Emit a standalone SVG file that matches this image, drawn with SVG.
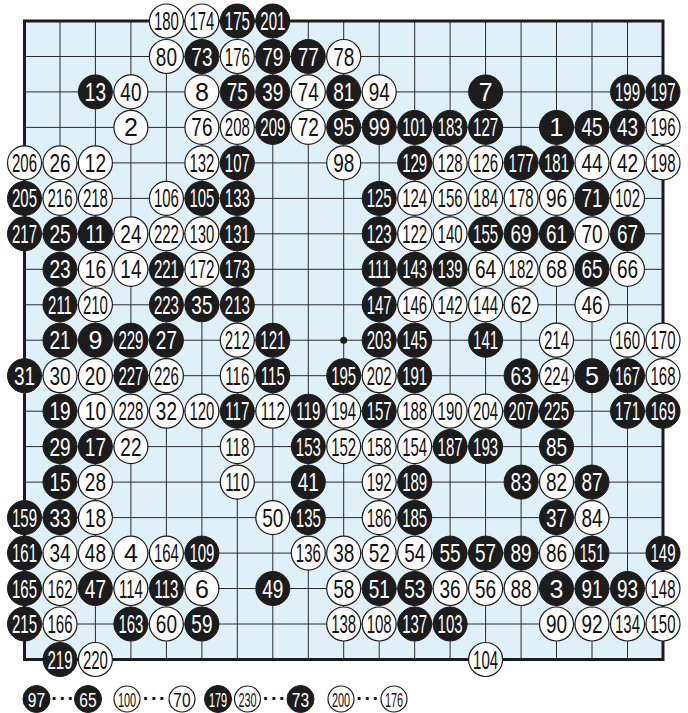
<svg xmlns="http://www.w3.org/2000/svg" width="688" height="713" viewBox="0 0 688 713">
<style>
text{font-family:"Liberation Sans",Arial,sans-serif;font-size:25px;text-anchor:middle}
.b circle{fill:#1c1c1c;stroke:#1c1c1c;stroke-width:1}
.w circle{fill:#fff;stroke:#1c1c1c;stroke-width:1.2}
.b text{fill:#fff}
.w text{fill:#111}
.t2{transform:scaleX(0.76)}
.t3{transform:scaleX(0.6)}
.lg text{font-size:21px}
.lg .t2{transform:scaleX(0.74)}
.lg .t3{transform:scaleX(0.52)}
.grid{stroke:#2a2a2a;stroke-width:1;fill:none}
.lg text.dots{font-size:20px;font-weight:bold;fill:#111;letter-spacing:1.5px}
</style>
<rect width="688" height="713" fill="#fff"/>
<g id="board">
<rect x="24.5" y="21" width="638.5" height="638.5" fill="#dff0f8"/>
<path class="grid" d="M60,21V659.5M95.4,21V659.5M130.9,21V659.5M166.4,21V659.5M201.9,21V659.5M237.3,21V659.5M272.8,21V659.5M308.3,21V659.5M343.7,21V659.5M379.2,21V659.5M414.7,21V659.5M450.1,21V659.5M485.6,21V659.5M521.1,21V659.5M556.5,21V659.5M592,21V659.5M627.5,21V659.5M24.5,56.5H663M24.5,91.9H663M24.5,127.4H663M24.5,162.9H663M24.5,198.4H663M24.5,233.8H663M24.5,269.3H663M24.5,304.8H663M24.5,340.2H663M24.5,375.7H663M24.5,411.2H663M24.5,446.6H663M24.5,482.1H663M24.5,517.6H663M24.5,553.1H663M24.5,588.5H663M24.5,624H663"/>
<rect x="24.5" y="21" width="638.5" height="638.5" fill="none" stroke="#1c1c1c" stroke-width="3"/>
<circle cx="343.7" cy="340.2" r="3.5" fill="#1c1c1c"/>
</g>
<g id="stones">
<g id="m180" class="w" transform="translate(166.4,21)"><circle r="17"/><text y="9" class="t3">180</text></g>
<g id="m174" class="w" transform="translate(201.9,21)"><circle r="17"/><text y="9" class="t3">174</text></g>
<g id="m175" class="b" transform="translate(237.3,21)"><circle r="17"/><text y="9" class="t3">175</text></g>
<g id="m201" class="b" transform="translate(272.8,21)"><circle r="17"/><text y="9" class="t3">201</text></g>

<g id="m80" class="w" transform="translate(166.4,56.5)"><circle r="17"/><text y="9" class="t2">80</text></g>
<g id="m73" class="b" transform="translate(201.9,56.5)"><circle r="17"/><text y="9" class="t2">73</text></g>
<g id="m176" class="w" transform="translate(237.3,56.5)"><circle r="17"/><text y="9" class="t3">176</text></g>
<g id="m79" class="b" transform="translate(272.8,56.5)"><circle r="17"/><text y="9" class="t2">79</text></g>
<g id="m77" class="b" transform="translate(308.3,56.5)"><circle r="17"/><text y="9" class="t2">77</text></g>
<g id="m78" class="w" transform="translate(343.7,56.5)"><circle r="17"/><text y="9" class="t2">78</text></g>

<g id="m13" class="b" transform="translate(95.4,91.9)"><circle r="17"/><text y="9" class="t2">13</text></g>
<g id="m40" class="w" transform="translate(130.9,91.9)"><circle r="17"/><text y="9" class="t2">40</text></g>
<g id="m8" class="w" transform="translate(201.9,91.9)"><circle r="17"/><text y="9">8</text></g>
<g id="m75" class="b" transform="translate(237.3,91.9)"><circle r="17"/><text y="9" class="t2">75</text></g>
<g id="m39" class="b" transform="translate(272.8,91.9)"><circle r="17"/><text y="9" class="t2">39</text></g>
<g id="m74" class="w" transform="translate(308.3,91.9)"><circle r="17"/><text y="9" class="t2">74</text></g>
<g id="m81" class="b" transform="translate(343.7,91.9)"><circle r="17"/><text y="9" class="t2">81</text></g>
<g id="m94" class="w" transform="translate(379.2,91.9)"><circle r="17"/><text y="9" class="t2">94</text></g>
<g id="m7" class="b" transform="translate(485.6,91.9)"><circle r="17"/><text y="9">7</text></g>
<g id="m199" class="b" transform="translate(627.5,91.9)"><circle r="17"/><text y="9" class="t3">199</text></g>
<g id="m197" class="b" transform="translate(663,91.9)"><circle r="17"/><text y="9" class="t3">197</text></g>

<g id="m2" class="w" transform="translate(130.9,127.4)"><circle r="17"/><text y="9">2</text></g>
<g id="m76" class="w" transform="translate(201.9,127.4)"><circle r="17"/><text y="9" class="t2">76</text></g>
<g id="m208" class="w" transform="translate(237.3,127.4)"><circle r="17"/><text y="9" class="t3">208</text></g>
<g id="m209" class="b" transform="translate(272.8,127.4)"><circle r="17"/><text y="9" class="t3">209</text></g>
<g id="m72" class="w" transform="translate(308.3,127.4)"><circle r="17"/><text y="9" class="t2">72</text></g>
<g id="m95" class="b" transform="translate(343.7,127.4)"><circle r="17"/><text y="9" class="t2">95</text></g>
<g id="m99" class="b" transform="translate(379.2,127.4)"><circle r="17"/><text y="9" class="t2">99</text></g>
<g id="m101" class="b" transform="translate(414.7,127.4)"><circle r="17"/><text y="9" class="t3">101</text></g>
<g id="m183" class="b" transform="translate(450.1,127.4)"><circle r="17"/><text y="9" class="t3">183</text></g>
<g id="m127" class="b" transform="translate(485.6,127.4)"><circle r="17"/><text y="9" class="t3">127</text></g>
<g id="m1" class="b" transform="translate(556.5,127.4)"><circle r="17"/><text y="9">1</text></g>
<g id="m45" class="b" transform="translate(592,127.4)"><circle r="17"/><text y="9" class="t2">45</text></g>
<g id="m43" class="b" transform="translate(627.5,127.4)"><circle r="17"/><text y="9" class="t2">43</text></g>
<g id="m196" class="w" transform="translate(663,127.4)"><circle r="17"/><text y="9" class="t3">196</text></g>

<g id="m206" class="w" transform="translate(24.5,162.9)"><circle r="17"/><text y="9" class="t3">206</text></g>
<g id="m26" class="w" transform="translate(60,162.9)"><circle r="17"/><text y="9" class="t2">26</text></g>
<g id="m12" class="w" transform="translate(95.4,162.9)"><circle r="17"/><text y="9" class="t2">12</text></g>
<g id="m132" class="w" transform="translate(201.9,162.9)"><circle r="17"/><text y="9" class="t3">132</text></g>
<g id="m107" class="b" transform="translate(237.3,162.9)"><circle r="17"/><text y="9" class="t3">107</text></g>
<g id="m98" class="w" transform="translate(343.7,162.9)"><circle r="17"/><text y="9" class="t2">98</text></g>
<g id="m129" class="b" transform="translate(414.7,162.9)"><circle r="17"/><text y="9" class="t3">129</text></g>
<g id="m128" class="w" transform="translate(450.1,162.9)"><circle r="17"/><text y="9" class="t3">128</text></g>
<g id="m126" class="w" transform="translate(485.6,162.9)"><circle r="17"/><text y="9" class="t3">126</text></g>
<g id="m177" class="b" transform="translate(521.1,162.9)"><circle r="17"/><text y="9" class="t3">177</text></g>
<g id="m181" class="b" transform="translate(556.5,162.9)"><circle r="17"/><text y="9" class="t3">181</text></g>
<g id="m44" class="w" transform="translate(592,162.9)"><circle r="17"/><text y="9" class="t2">44</text></g>
<g id="m42" class="w" transform="translate(627.5,162.9)"><circle r="17"/><text y="9" class="t2">42</text></g>
<g id="m198" class="w" transform="translate(663,162.9)"><circle r="17"/><text y="9" class="t3">198</text></g>

<g id="m205" class="b" transform="translate(24.5,198.4)"><circle r="17"/><text y="9" class="t3">205</text></g>
<g id="m216" class="w" transform="translate(60,198.4)"><circle r="17"/><text y="9" class="t3">216</text></g>
<g id="m218" class="w" transform="translate(95.4,198.4)"><circle r="17"/><text y="9" class="t3">218</text></g>
<g id="m106" class="w" transform="translate(166.4,198.4)"><circle r="17"/><text y="9" class="t3">106</text></g>
<g id="m105" class="b" transform="translate(201.9,198.4)"><circle r="17"/><text y="9" class="t3">105</text></g>
<g id="m133" class="b" transform="translate(237.3,198.4)"><circle r="17"/><text y="9" class="t3">133</text></g>
<g id="m125" class="b" transform="translate(379.2,198.4)"><circle r="17"/><text y="9" class="t3">125</text></g>
<g id="m124" class="w" transform="translate(414.7,198.4)"><circle r="17"/><text y="9" class="t3">124</text></g>
<g id="m156" class="w" transform="translate(450.1,198.4)"><circle r="17"/><text y="9" class="t3">156</text></g>
<g id="m184" class="w" transform="translate(485.6,198.4)"><circle r="17"/><text y="9" class="t3">184</text></g>
<g id="m178" class="w" transform="translate(521.1,198.4)"><circle r="17"/><text y="9" class="t3">178</text></g>
<g id="m96" class="w" transform="translate(556.5,198.4)"><circle r="17"/><text y="9" class="t2">96</text></g>
<g id="m71" class="b" transform="translate(592,198.4)"><circle r="17"/><text y="9" class="t2">71</text></g>
<g id="m102" class="w" transform="translate(627.5,198.4)"><circle r="17"/><text y="9" class="t3">102</text></g>

<g id="m217" class="b" transform="translate(24.5,233.8)"><circle r="17"/><text y="9" class="t3">217</text></g>
<g id="m25" class="b" transform="translate(60,233.8)"><circle r="17"/><text y="9" class="t2">25</text></g>
<g id="m11" class="b" transform="translate(95.4,233.8)"><circle r="17"/><text y="9" class="t2">11</text></g>
<g id="m24" class="w" transform="translate(130.9,233.8)"><circle r="17"/><text y="9" class="t2">24</text></g>
<g id="m222" class="w" transform="translate(166.4,233.8)"><circle r="17"/><text y="9" class="t3">222</text></g>
<g id="m130" class="w" transform="translate(201.9,233.8)"><circle r="17"/><text y="9" class="t3">130</text></g>
<g id="m131" class="b" transform="translate(237.3,233.8)"><circle r="17"/><text y="9" class="t3">131</text></g>
<g id="m123" class="b" transform="translate(379.2,233.8)"><circle r="17"/><text y="9" class="t3">123</text></g>
<g id="m122" class="w" transform="translate(414.7,233.8)"><circle r="17"/><text y="9" class="t3">122</text></g>
<g id="m140" class="w" transform="translate(450.1,233.8)"><circle r="17"/><text y="9" class="t3">140</text></g>
<g id="m155" class="b" transform="translate(485.6,233.8)"><circle r="17"/><text y="9" class="t3">155</text></g>
<g id="m69" class="b" transform="translate(521.1,233.8)"><circle r="17"/><text y="9" class="t2">69</text></g>
<g id="m61" class="b" transform="translate(556.5,233.8)"><circle r="17"/><text y="9" class="t2">61</text></g>
<g id="m70" class="w" transform="translate(592,233.8)"><circle r="17"/><text y="9" class="t2">70</text></g>
<g id="m67" class="b" transform="translate(627.5,233.8)"><circle r="17"/><text y="9" class="t2">67</text></g>

<g id="m23" class="b" transform="translate(60,269.3)"><circle r="17"/><text y="9" class="t2">23</text></g>
<g id="m16" class="w" transform="translate(95.4,269.3)"><circle r="17"/><text y="9" class="t2">16</text></g>
<g id="m14" class="w" transform="translate(130.9,269.3)"><circle r="17"/><text y="9" class="t2">14</text></g>
<g id="m221" class="b" transform="translate(166.4,269.3)"><circle r="17"/><text y="9" class="t3">221</text></g>
<g id="m172" class="w" transform="translate(201.9,269.3)"><circle r="17"/><text y="9" class="t3">172</text></g>
<g id="m173" class="b" transform="translate(237.3,269.3)"><circle r="17"/><text y="9" class="t3">173</text></g>
<g id="m111" class="b" transform="translate(379.2,269.3)"><circle r="17"/><text y="9" class="t3">111</text></g>
<g id="m143" class="b" transform="translate(414.7,269.3)"><circle r="17"/><text y="9" class="t3">143</text></g>
<g id="m139" class="b" transform="translate(450.1,269.3)"><circle r="17"/><text y="9" class="t3">139</text></g>
<g id="m64" class="w" transform="translate(485.6,269.3)"><circle r="17"/><text y="9" class="t2">64</text></g>
<g id="m182" class="w" transform="translate(521.1,269.3)"><circle r="17"/><text y="9" class="t3">182</text></g>
<g id="m68" class="w" transform="translate(556.5,269.3)"><circle r="17"/><text y="9" class="t2">68</text></g>
<g id="m65" class="b" transform="translate(592,269.3)"><circle r="17"/><text y="9" class="t2">65</text></g>
<g id="m66" class="w" transform="translate(627.5,269.3)"><circle r="17"/><text y="9" class="t2">66</text></g>

<g id="m211" class="b" transform="translate(60,304.8)"><circle r="17"/><text y="9" class="t3">211</text></g>
<g id="m210" class="w" transform="translate(95.4,304.8)"><circle r="17"/><text y="9" class="t3">210</text></g>
<g id="m223" class="b" transform="translate(166.4,304.8)"><circle r="17"/><text y="9" class="t3">223</text></g>
<g id="m35" class="b" transform="translate(201.9,304.8)"><circle r="17"/><text y="9" class="t2">35</text></g>
<g id="m213" class="b" transform="translate(237.3,304.8)"><circle r="17"/><text y="9" class="t3">213</text></g>
<g id="m147" class="b" transform="translate(379.2,304.8)"><circle r="17"/><text y="9" class="t3">147</text></g>
<g id="m146" class="w" transform="translate(414.7,304.8)"><circle r="17"/><text y="9" class="t3">146</text></g>
<g id="m142" class="w" transform="translate(450.1,304.8)"><circle r="17"/><text y="9" class="t3">142</text></g>
<g id="m144" class="w" transform="translate(485.6,304.8)"><circle r="17"/><text y="9" class="t3">144</text></g>
<g id="m62" class="w" transform="translate(521.1,304.8)"><circle r="17"/><text y="9" class="t2">62</text></g>
<g id="m46" class="w" transform="translate(592,304.8)"><circle r="17"/><text y="9" class="t2">46</text></g>

<g id="m21" class="b" transform="translate(60,340.2)"><circle r="17"/><text y="9" class="t2">21</text></g>
<g id="m9" class="b" transform="translate(95.4,340.2)"><circle r="17"/><text y="9">9</text></g>
<g id="m229" class="b" transform="translate(130.9,340.2)"><circle r="17"/><text y="9" class="t3">229</text></g>
<g id="m27" class="b" transform="translate(166.4,340.2)"><circle r="17"/><text y="9" class="t2">27</text></g>
<g id="m212" class="w" transform="translate(237.3,340.2)"><circle r="17"/><text y="9" class="t3">212</text></g>
<g id="m121" class="b" transform="translate(272.8,340.2)"><circle r="17"/><text y="9" class="t3">121</text></g>
<g id="m203" class="b" transform="translate(379.2,340.2)"><circle r="17"/><text y="9" class="t3">203</text></g>
<g id="m145" class="b" transform="translate(414.7,340.2)"><circle r="17"/><text y="9" class="t3">145</text></g>
<g id="m141" class="b" transform="translate(485.6,340.2)"><circle r="17"/><text y="9" class="t3">141</text></g>
<g id="m214" class="w" transform="translate(556.5,340.2)"><circle r="17"/><text y="9" class="t3">214</text></g>
<g id="m160" class="w" transform="translate(627.5,340.2)"><circle r="17"/><text y="9" class="t3">160</text></g>
<g id="m170" class="w" transform="translate(663,340.2)"><circle r="17"/><text y="9" class="t3">170</text></g>

<g id="m31" class="b" transform="translate(24.5,375.7)"><circle r="17"/><text y="9" class="t2">31</text></g>
<g id="m30" class="w" transform="translate(60,375.7)"><circle r="17"/><text y="9" class="t2">30</text></g>
<g id="m20" class="w" transform="translate(95.4,375.7)"><circle r="17"/><text y="9" class="t2">20</text></g>
<g id="m227" class="b" transform="translate(130.9,375.7)"><circle r="17"/><text y="9" class="t3">227</text></g>
<g id="m226" class="w" transform="translate(166.4,375.7)"><circle r="17"/><text y="9" class="t3">226</text></g>
<g id="m116" class="w" transform="translate(237.3,375.7)"><circle r="17"/><text y="9" class="t3">116</text></g>
<g id="m115" class="b" transform="translate(272.8,375.7)"><circle r="17"/><text y="9" class="t3">115</text></g>
<g id="m195" class="b" transform="translate(343.7,375.7)"><circle r="17"/><text y="9" class="t3">195</text></g>
<g id="m202" class="w" transform="translate(379.2,375.7)"><circle r="17"/><text y="9" class="t3">202</text></g>
<g id="m191" class="b" transform="translate(414.7,375.7)"><circle r="17"/><text y="9" class="t3">191</text></g>
<g id="m63" class="b" transform="translate(521.1,375.7)"><circle r="17"/><text y="9" class="t2">63</text></g>
<g id="m224" class="w" transform="translate(556.5,375.7)"><circle r="17"/><text y="9" class="t3">224</text></g>
<g id="m5" class="b" transform="translate(592,375.7)"><circle r="17"/><text y="9">5</text></g>
<g id="m167" class="b" transform="translate(627.5,375.7)"><circle r="17"/><text y="9" class="t3">167</text></g>
<g id="m168" class="w" transform="translate(663,375.7)"><circle r="17"/><text y="9" class="t3">168</text></g>

<g id="m19" class="b" transform="translate(60,411.2)"><circle r="17"/><text y="9" class="t2">19</text></g>
<g id="m10" class="w" transform="translate(95.4,411.2)"><circle r="17"/><text y="9" class="t2">10</text></g>
<g id="m228" class="w" transform="translate(130.9,411.2)"><circle r="17"/><text y="9" class="t3">228</text></g>
<g id="m32" class="w" transform="translate(166.4,411.2)"><circle r="17"/><text y="9" class="t2">32</text></g>
<g id="m120" class="w" transform="translate(201.9,411.2)"><circle r="17"/><text y="9" class="t3">120</text></g>
<g id="m117" class="b" transform="translate(237.3,411.2)"><circle r="17"/><text y="9" class="t3">117</text></g>
<g id="m112" class="w" transform="translate(272.8,411.2)"><circle r="17"/><text y="9" class="t3">112</text></g>
<g id="m119" class="b" transform="translate(308.3,411.2)"><circle r="17"/><text y="9" class="t3">119</text></g>
<g id="m194" class="w" transform="translate(343.7,411.2)"><circle r="17"/><text y="9" class="t3">194</text></g>
<g id="m157" class="b" transform="translate(379.2,411.2)"><circle r="17"/><text y="9" class="t3">157</text></g>
<g id="m188" class="w" transform="translate(414.7,411.2)"><circle r="17"/><text y="9" class="t3">188</text></g>
<g id="m190" class="w" transform="translate(450.1,411.2)"><circle r="17"/><text y="9" class="t3">190</text></g>
<g id="m204" class="w" transform="translate(485.6,411.2)"><circle r="17"/><text y="9" class="t3">204</text></g>
<g id="m207" class="b" transform="translate(521.1,411.2)"><circle r="17"/><text y="9" class="t3">207</text></g>
<g id="m225" class="b" transform="translate(556.5,411.2)"><circle r="17"/><text y="9" class="t3">225</text></g>
<g id="m171" class="b" transform="translate(627.5,411.2)"><circle r="17"/><text y="9" class="t3">171</text></g>
<g id="m169" class="b" transform="translate(663,411.2)"><circle r="17"/><text y="9" class="t3">169</text></g>

<g id="m29" class="b" transform="translate(60,446.6)"><circle r="17"/><text y="9" class="t2">29</text></g>
<g id="m17" class="b" transform="translate(95.4,446.6)"><circle r="17"/><text y="9" class="t2">17</text></g>
<g id="m22" class="w" transform="translate(130.9,446.6)"><circle r="17"/><text y="9" class="t2">22</text></g>
<g id="m118" class="w" transform="translate(237.3,446.6)"><circle r="17"/><text y="9" class="t3">118</text></g>
<g id="m153" class="b" transform="translate(308.3,446.6)"><circle r="17"/><text y="9" class="t3">153</text></g>
<g id="m152" class="w" transform="translate(343.7,446.6)"><circle r="17"/><text y="9" class="t3">152</text></g>
<g id="m158" class="w" transform="translate(379.2,446.6)"><circle r="17"/><text y="9" class="t3">158</text></g>
<g id="m154" class="w" transform="translate(414.7,446.6)"><circle r="17"/><text y="9" class="t3">154</text></g>
<g id="m187" class="b" transform="translate(450.1,446.6)"><circle r="17"/><text y="9" class="t3">187</text></g>
<g id="m193" class="b" transform="translate(485.6,446.6)"><circle r="17"/><text y="9" class="t3">193</text></g>
<g id="m85" class="b" transform="translate(556.5,446.6)"><circle r="17"/><text y="9" class="t2">85</text></g>

<g id="m15" class="b" transform="translate(60,482.1)"><circle r="17"/><text y="9" class="t2">15</text></g>
<g id="m28" class="w" transform="translate(95.4,482.1)"><circle r="17"/><text y="9" class="t2">28</text></g>
<g id="m110" class="w" transform="translate(237.3,482.1)"><circle r="17"/><text y="9" class="t3">110</text></g>
<g id="m41" class="b" transform="translate(308.3,482.1)"><circle r="17"/><text y="9" class="t2">41</text></g>
<g id="m192" class="w" transform="translate(379.2,482.1)"><circle r="17"/><text y="9" class="t3">192</text></g>
<g id="m189" class="b" transform="translate(414.7,482.1)"><circle r="17"/><text y="9" class="t3">189</text></g>
<g id="m83" class="b" transform="translate(521.1,482.1)"><circle r="17"/><text y="9" class="t2">83</text></g>
<g id="m82" class="w" transform="translate(556.5,482.1)"><circle r="17"/><text y="9" class="t2">82</text></g>
<g id="m87" class="b" transform="translate(592,482.1)"><circle r="17"/><text y="9" class="t2">87</text></g>

<g id="m159" class="b" transform="translate(24.5,517.6)"><circle r="17"/><text y="9" class="t3">159</text></g>
<g id="m33" class="b" transform="translate(60,517.6)"><circle r="17"/><text y="9" class="t2">33</text></g>
<g id="m18" class="w" transform="translate(95.4,517.6)"><circle r="17"/><text y="9" class="t2">18</text></g>
<g id="m50" class="w" transform="translate(272.8,517.6)"><circle r="17"/><text y="9" class="t2">50</text></g>
<g id="m135" class="b" transform="translate(308.3,517.6)"><circle r="17"/><text y="9" class="t3">135</text></g>
<g id="m186" class="w" transform="translate(379.2,517.6)"><circle r="17"/><text y="9" class="t3">186</text></g>
<g id="m185" class="b" transform="translate(414.7,517.6)"><circle r="17"/><text y="9" class="t3">185</text></g>
<g id="m37" class="b" transform="translate(556.5,517.6)"><circle r="17"/><text y="9" class="t2">37</text></g>
<g id="m84" class="w" transform="translate(592,517.6)"><circle r="17"/><text y="9" class="t2">84</text></g>

<g id="m161" class="b" transform="translate(24.5,553.1)"><circle r="17"/><text y="9" class="t3">161</text></g>
<g id="m34" class="w" transform="translate(60,553.1)"><circle r="17"/><text y="9" class="t2">34</text></g>
<g id="m48" class="w" transform="translate(95.4,553.1)"><circle r="17"/><text y="9" class="t2">48</text></g>
<g id="m4" class="w" transform="translate(130.9,553.1)"><circle r="17"/><text y="9">4</text></g>
<g id="m164" class="w" transform="translate(166.4,553.1)"><circle r="17"/><text y="9" class="t3">164</text></g>
<g id="m109" class="b" transform="translate(201.9,553.1)"><circle r="17"/><text y="9" class="t3">109</text></g>
<g id="m136" class="w" transform="translate(308.3,553.1)"><circle r="17"/><text y="9" class="t3">136</text></g>
<g id="m38" class="w" transform="translate(343.7,553.1)"><circle r="17"/><text y="9" class="t2">38</text></g>
<g id="m52" class="w" transform="translate(379.2,553.1)"><circle r="17"/><text y="9" class="t2">52</text></g>
<g id="m54" class="w" transform="translate(414.7,553.1)"><circle r="17"/><text y="9" class="t2">54</text></g>
<g id="m55" class="b" transform="translate(450.1,553.1)"><circle r="17"/><text y="9" class="t2">55</text></g>
<g id="m57" class="b" transform="translate(485.6,553.1)"><circle r="17"/><text y="9" class="t2">57</text></g>
<g id="m89" class="b" transform="translate(521.1,553.1)"><circle r="17"/><text y="9" class="t2">89</text></g>
<g id="m86" class="w" transform="translate(556.5,553.1)"><circle r="17"/><text y="9" class="t2">86</text></g>
<g id="m151" class="b" transform="translate(592,553.1)"><circle r="17"/><text y="9" class="t3">151</text></g>
<g id="m149" class="b" transform="translate(663,553.1)"><circle r="17"/><text y="9" class="t3">149</text></g>

<g id="m165" class="b" transform="translate(24.5,588.5)"><circle r="17"/><text y="9" class="t3">165</text></g>
<g id="m162" class="w" transform="translate(60,588.5)"><circle r="17"/><text y="9" class="t3">162</text></g>
<g id="m47" class="b" transform="translate(95.4,588.5)"><circle r="17"/><text y="9" class="t2">47</text></g>
<g id="m114" class="w" transform="translate(130.9,588.5)"><circle r="17"/><text y="9" class="t3">114</text></g>
<g id="m113" class="b" transform="translate(166.4,588.5)"><circle r="17"/><text y="9" class="t3">113</text></g>
<g id="m6" class="w" transform="translate(201.9,588.5)"><circle r="17"/><text y="9">6</text></g>
<g id="m49" class="b" transform="translate(272.8,588.5)"><circle r="17"/><text y="9" class="t2">49</text></g>
<g id="m58" class="w" transform="translate(343.7,588.5)"><circle r="17"/><text y="9" class="t2">58</text></g>
<g id="m51" class="b" transform="translate(379.2,588.5)"><circle r="17"/><text y="9" class="t2">51</text></g>
<g id="m53" class="b" transform="translate(414.7,588.5)"><circle r="17"/><text y="9" class="t2">53</text></g>
<g id="m36" class="w" transform="translate(450.1,588.5)"><circle r="17"/><text y="9" class="t2">36</text></g>
<g id="m56" class="w" transform="translate(485.6,588.5)"><circle r="17"/><text y="9" class="t2">56</text></g>
<g id="m88" class="w" transform="translate(521.1,588.5)"><circle r="17"/><text y="9" class="t2">88</text></g>
<g id="m3" class="b" transform="translate(556.5,588.5)"><circle r="17"/><text y="9">3</text></g>
<g id="m91" class="b" transform="translate(592,588.5)"><circle r="17"/><text y="9" class="t2">91</text></g>
<g id="m93" class="b" transform="translate(627.5,588.5)"><circle r="17"/><text y="9" class="t2">93</text></g>
<g id="m148" class="w" transform="translate(663,588.5)"><circle r="17"/><text y="9" class="t3">148</text></g>

<g id="m215" class="b" transform="translate(24.5,624)"><circle r="17"/><text y="9" class="t3">215</text></g>
<g id="m166" class="w" transform="translate(60,624)"><circle r="17"/><text y="9" class="t3">166</text></g>
<g id="m163" class="b" transform="translate(130.9,624)"><circle r="17"/><text y="9" class="t3">163</text></g>
<g id="m60" class="w" transform="translate(166.4,624)"><circle r="17"/><text y="9" class="t2">60</text></g>
<g id="m59" class="b" transform="translate(201.9,624)"><circle r="17"/><text y="9" class="t2">59</text></g>
<g id="m138" class="w" transform="translate(343.7,624)"><circle r="17"/><text y="9" class="t3">138</text></g>
<g id="m108" class="w" transform="translate(379.2,624)"><circle r="17"/><text y="9" class="t3">108</text></g>
<g id="m137" class="b" transform="translate(414.7,624)"><circle r="17"/><text y="9" class="t3">137</text></g>
<g id="m103" class="b" transform="translate(450.1,624)"><circle r="17"/><text y="9" class="t3">103</text></g>
<g id="m90" class="w" transform="translate(556.5,624)"><circle r="17"/><text y="9" class="t2">90</text></g>
<g id="m92" class="w" transform="translate(592,624)"><circle r="17"/><text y="9" class="t2">92</text></g>
<g id="m134" class="w" transform="translate(627.5,624)"><circle r="17"/><text y="9" class="t3">134</text></g>
<g id="m150" class="w" transform="translate(663,624)"><circle r="17"/><text y="9" class="t3">150</text></g>

<g id="m219" class="b" transform="translate(60,659.5)"><circle r="17"/><text y="9" class="t3">219</text></g>
<g id="m220" class="w" transform="translate(95.4,659.5)"><circle r="17"/><text y="9" class="t3">220</text></g>
<g id="m104" class="w" transform="translate(485.6,659.5)"><circle r="17"/><text y="9" class="t3">104</text></g>
</g>
<g id="legend" class="lg">
<g id="l97" class="b" transform="translate(36.5,699)"><circle r="13.5"/><text y="7.5" class="t2">97</text></g>
<text class="dots" x="63.5" y="705">···</text>
<g id="l65" class="b" transform="translate(88,699)"><circle r="13.5"/><text y="7.5" class="t2">65</text></g>
<g id="l100" class="w" transform="translate(127,699)"><circle r="13"/><text y="7.5" class="t3">100</text></g>
<text class="dots" x="155" y="705">···</text>
<g id="l70" class="w" transform="translate(182,699)"><circle r="13"/><text y="7.5" class="t2">70</text></g>
<g id="l179" class="b" transform="translate(218,699)"><circle r="13.5"/><text y="7.5" class="t3">179</text></g>
<g id="l230" class="w" transform="translate(247.5,699)"><circle r="13"/><text y="7.5" class="t3">230</text></g>
<text class="dots" x="275" y="705">···</text>
<g id="l73" class="b" transform="translate(300.5,699)"><circle r="13.5"/><text y="7.5" class="t2">73</text></g>
<g id="l200" class="w" transform="translate(341,699)"><circle r="13"/><text y="7.5" class="t3">200</text></g>
<text class="dots" x="368.5" y="705">···</text>
<g id="l176" class="w" transform="translate(394,699)"><circle r="13"/><text y="7.5" class="t3">176</text></g>
</g>
</svg>
